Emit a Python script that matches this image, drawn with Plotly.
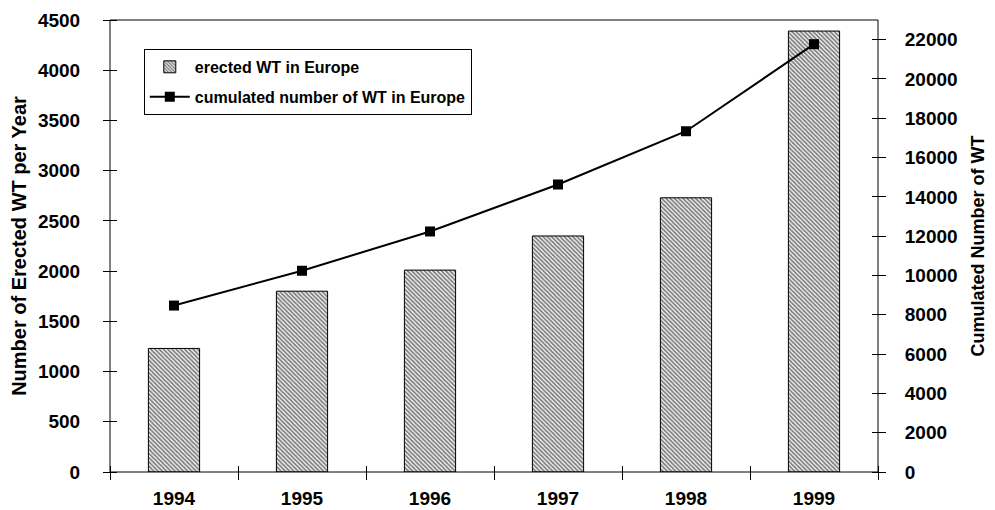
import plotly.graph_objects as go

years = ["1994", "1995", "1996", "1997", "1998", "1999"]
erected = [1230, 1800, 2010, 2350, 2730, 4390]
cumulated = [8470, 10240, 12240, 14630, 17340, 21770]
left_ticks = [0, 500, 1000, 1500, 2000, 2500, 3000, 3500, 4000, 4500]
right_ticks = [0, 2000, 4000, 6000, 8000, 10000, 12000, 14000, 16000, 18000, 20000, 22000]

# category positions (0..n-1) and the boundaries between categories
pos = list(range(len(years)))
boundaries = [p - 0.5 for p in pos] + [pos[-1] + 0.5]

FONT = "Liberation Sans"
tickfont = dict(family=FONT, size=19, color="black", weight="bold")

# plot area size in px (for the half-tick offset of the crossing tick marks)
PW, PH = 768, 452
HALF = 7

fig = go.Figure()
fig.add_trace(go.Bar(
    x=pos, y=erected, name="erected WT in Europe", width=0.4, legendgroup="a",
    marker=dict(color="white",
                pattern=dict(shape="\\", fgcolor="#000000", bgcolor="#ffffff", size=3, solidity=0.6),
                line=dict(color="black", width=1)),
    hoverinfo="skip",
))
fig.add_trace(go.Scatter(
    x=pos, y=cumulated, name="cumulated number of WT in Europe", yaxis="y2", legendgroup="b",
    mode="lines+markers", line=dict(color="black", width=2),
    marker=dict(symbol="square", size=10, color="black"),
))

axis_common = dict(showgrid=False, zeroline=False, color="black", automargin=False,
                   showline=False, ticks="outside", ticklen=2 * HALF, tickcolor="black",
                   tickwidth=1, tickfont=tickfont, ticklabeloverflow="allow")

# plot-area frame
fig.add_shape(type="rect", xref="x domain", yref="y domain", x0=0, x1=1, y0=0, y1=1,
              line=dict(color="black", width=1), layer="above")

fig.update_layout(
    width=987, height=502,
    margin=dict(l=102, r=117, t=12, b=38, pad=0),
    paper_bgcolor="white", plot_bgcolor="white",
    font=dict(family=FONT, color="black"),
    showlegend=True,
    legend=dict(x=0.044, y=0.936, xanchor="left", yanchor="top",
                bgcolor="white", bordercolor="black", borderwidth=1,
                font=dict(family=FONT, size=16, color="black", weight="bold"),
                traceorder="grouped", itemwidth=40, tracegroupgap=6),
    xaxis=dict(range=[boundaries[0], boundaries[-1]], tickvals=boundaries,
               ticktext=years + [""], ticklabelshift=int(PW / len(years) / 2),
               anchor="free", position=HALF / PH, ticklabelstandoff=2, **axis_common),
    yaxis=dict(range=[0, 4500], tickvals=left_ticks,
               anchor="free", position=HALF / PW, ticklabelstandoff=19,
               title=dict(text="Number of Erected WT per Year",
                          font=dict(family=FONT, size=20, color="black", weight="bold"),
                          standoff=14),
               **axis_common),
    yaxis2=dict(overlaying="y", side="right", range=[0, 23000],
                tickvals=right_ticks, ticktext=[str(v) for v in right_ticks],
                anchor="free", position=1 - HALF / PW, ticklabelstandoff=15,
                title=dict(text="Cumulated Number of WT",
                           font=dict(family=FONT, size=18, color="black", weight="bold"),
                           standoff=14),
                **axis_common),
)

fig.write_html("out.html")
